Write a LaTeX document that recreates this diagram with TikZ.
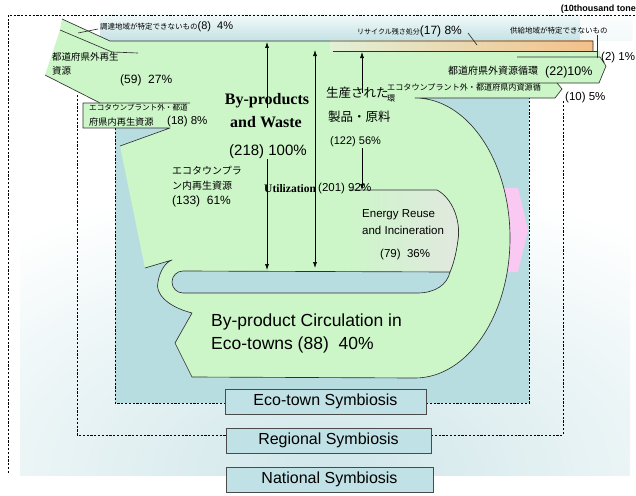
\documentclass[tikz,border=0pt]{standalone}
\usepackage{fontspec}
\setmainfont{Liberation Sans}
\newfontfamily\jp{Noto Sans CJK JP}
\newfontfamily\tms{Liberation Serif}
\usetikzlibrary{arrows.meta}
\newcommand\setfs[1]{\fontsize{#1}{#1}\selectfont}
\definecolor{flowgreen}{HTML}{CCF6C8}
\definecolor{ecoblue}{HTML}{B7DDE0}
\definecolor{boxblue}{HTML}{C0E1E5}
\definecolor{boxedge}{HTML}{4A4A4A}
\definecolor{edgegray}{HTML}{303030}
\definecolor{orangeflow}{HTML}{F4C08A}
\definecolor{orangefade}{HTML}{E2F0D6}
\definecolor{pinkflow}{HTML}{F9C8F3}
\definecolor{energygray}{HTML}{E2E8E0}
\definecolor{bandtop}{HTML}{F2F9F9}
\definecolor{bandbot}{HTML}{C3E1E5}
\definecolor{glow}{HTML}{CFE6E9}
\begin{document}
\begin{tikzpicture}[x=1pt,y=-1pt,
  outline/.style={draw=edgegray, line width=0.65pt, line join=round},
  zone/.style={draw=black, line width=0.5pt, dash pattern=on 2.2pt off 1.6pt},
  vflow/.style={draw=black, line width=0.6pt},
  lbl/.style={anchor=west, inner sep=0pt, text=black},
  legendbox/.style={draw=boxedge, line width=0.8pt, fill=boxblue, minimum height=25pt,
    inner sep=0pt, font=\setfs{16}},
]
\useasboundingbox[fill=white] (0,0) rectangle (636,495);

% pale glow behind the lower half
\begin{scope}
  \clip (20,15) rectangle (630,475);
  \shade[inner color=glow, outer color=white] (330,475) ellipse [x radius=520, y radius=300];
\end{scope}

% top band
\shade[top color=bandtop, bottom color=bandbot] (100,15) rectangle (632,41);
\shade[left color=bandbot!0!white, right color=white, opacity=0.8] (580,15) rectangle (632,41);

% eco-town area
\fill[ecoblue] (115,41) rectangle (529,403);

% zone boundaries
\draw[zone] (8,473) -- (8,15) -- (636,15);
\draw[zone] (77,95) -- (77,435) -- (226,435);
\draw[zone] (431,435) -- (563,435) -- (563,100);
\draw[zone] (115,128) -- (115,403) -- (225,403);
\draw[zone] (426,403) -- (529,403) -- (529,98);

% heat output
\fill[pinkflow] (500,188) -- (518,188) -- (528,230) -- (518,272) -- (500,272) -- cycle;

% main material flow
\fill[flowgreen] (62,19) -- (110,41) -- (593,41) -- (593,51) -- (600,51) -- (600,57)
  -- (606,66) -- (599,83) -- (557,83) -- (562,89) -- (555,98) -- (415,98)
  arc[start angle=-90, end angle=90, x radius=95, y radius=140]
  -- (192,377) -- (175,343) -- (192,313)
  .. controls (165,306) and (155,292) .. (158,282)
  .. controls (160,270) and (166,262) .. (172,260)
  -- (145,268) -- (120,146) -- (170,128) -- (83,128) -- (83,103) -- (100,103)
  -- (45,75) -- (60,30) -- cycle;

% energy recovery part
\fill[left color=flowgreen, right color=energygray] (345,190) -- (437,190)
  .. controls (452,198) and (461,220) .. (458,240)
  .. controls (456,255) and (453,265) .. (450,272) -- (345,272) -- cycle;

% residue to disposal
\shade[left color=orangefade, right color=orangeflow] (330,41) rectangle (593,51);

% inner return channel
\filldraw[fill=ecoblue, outline] (183,271) -- (450,272)
  .. controls (447,285) and (435,293) .. (417,293) -- (183,293)
  arc[start angle=90, end angle=270, radius=11] -- cycle;

% flow outlines
\draw[outline] (62,19) -- (110,41) -- (593,41) -- (593,51);
\draw[outline] (333,51) -- (598,51);
\draw[outline] (517,57) -- (600,57) -- (606,66) -- (599,83) -- (477,83);
\draw[outline] (557,83) -- (562,89) -- (555,98) -- (415,98)
  arc[start angle=-90, end angle=90, x radius=95, y radius=140]
  -- (192,377) -- (175,343) -- (192,313)
  .. controls (165,306) and (155,292) .. (158,282)
  .. controls (160,270) and (166,262) .. (172,260) -- (145,268);
\draw[outline] (120,146) -- (170,128) -- (83,128) -- (83,103) -- (190,103);
\draw[outline] (45,75) -- (100,103);
\draw[outline] (60,30) -- (112,52) -- (138,53);
\draw[outline] (350,190) -- (437,190)
  .. controls (452,198) and (461,220) .. (458,240)
  .. controls (456,255) and (453,265) .. (450,272);

% labels
\node[lbl, font=\jp\setfs{7.5}] (unk) at (100,27) {調達地域が特定できないもの{\rmfamily\setfs{11}(8)\ \ 4\%}};
\node[lbl, font=\jp\setfs{9.5}, align=left] (outpref) at (52,64) {都道府県外再生\\[4pt]資源};
\node[lbl, font=\setfs{12}] (v59) at (120,80) {(59)\ \ 27\%};
\node[lbl, font=\jp\setfs{7.6}] (inpref1) at (89,108) {エコタウンプラント外・都道};
\node[lbl, font=\jp\setfs{9.2}] (inpref2) at (89,122) {府県内再生資源};
\node[lbl, font=\setfs{11.5}] (v18) at (167,122) {(18) 8\%};
\node[font=\tms\bfseries\setfs{16}, inner sep=0pt] (bp) at (267,101) {By-products};
\node[font=\tms\bfseries\setfs{16}, inner sep=0pt] (aw) at (266,122) {and Waste};
\node[font=\setfs{15}, inner sep=0pt] (v218) at (268,152) {(218) 100\%};
\node[lbl, font=\jp\setfs{10}] (intown1) at (172,171) {エコタウンプラ};
\node[lbl, font=\jp\setfs{10}] (intown2) at (172,186) {ン内再生資源};
\node[lbl, font=\setfs{12}] (v133) at (172,201) {(133)\ \ 61\%};
\node[lbl, font=\tms\bfseries\setfs{11.5}] (util) at (264,189) {Utilization};
\node[lbl, font=\setfs{11.5}] (v201) at (318,189) {(201) 92\%};
\node[lbl, font=\jp\setfs{12.5}] (prod1) at (326,93) {生産された};
\node[lbl, font=\jp\setfs{12.5}] (prod2) at (328,117) {製品・原料};
\node[lbl, font=\jp\setfs{8.1}] (incirc1) at (387,87) {エコタウンプラント外・都道府県内資源循};
\node[lbl, font=\jp\setfs{8.1}] (incirc2) at (387,99) {環};
\node[lbl, font=\setfs{11}] (v122) at (330,142) {(122) 56\%};
\node[lbl, font=\setfs{11.5}] (en1) at (362,215) {Energy Reuse};
\node[lbl, font=\setfs{11.5}] (en2) at (362,230) {and Incineration};
\node[lbl, font=\setfs{11.5}] (v79) at (380,255) {(79)\ \ 36\%};
\node[lbl, font=\setfs{17.5}] (circ1) at (211,322) {By-product Circulation in};
\node[lbl, font=\setfs{17.5}] (circ2) at (211,345) {Eco-towns (88)\ \ 40\%};
\node[lbl, font=\jp\setfs{7}] (resid) at (357,31) {リサイクル残さ処分{\rmfamily\setfs{12}(17) 8\%}};
\node[lbl, font=\jp\setfs{7.5}] (unksup) at (510,31) {供給地域が特定できないもの};
\node[lbl, font=\setfs{11.5}] (v2) at (601,58) {(2) 1\%};
\node[lbl, font=\jp\setfs{10}] (outcirc) at (448,71) {都道府県外資源循環};
\node[lbl, font=\setfs{12.5}] (v22) at (545,72) {(22)10\%};
\node[lbl, font=\setfs{11.5}] (v10) at (565,98) {(10) 5\%};
\node[anchor=east, inner sep=0pt, font=\bfseries\setfs{9}] (unit) at (636,9) {(10thousand tone};

% label leaders
\coordinate (lead8) at (78,33);
\coordinate (lead17) at (477,45);
\coordinate (lead2) at (597,58);
\draw[outline] (lead8) -- ([xshift=-2pt,yshift=-2pt]unk.west);
\draw[outline] (lead17) -- (468,33);
\draw[outline] (lead2) -- (unksup.south -| lead2);

% totals: inputs, utilisation, products
\coordinate (a1top) at (267,42);
\coordinate (a1bot) at (267,270);
\coordinate (a2top) at (315,50);
\coordinate (a2bot) at (315,268);
\coordinate (a3top) at (362,52);
\coordinate (a3bot) at (362,190);
\draw[vflow, {Latex[length=6pt,width=4pt]}-] (a1top) -- (a1top |- bp.south);
\draw[vflow, -{Latex[length=6pt,width=4pt]}] (a1top |- v218.south) -- (a1bot);
\draw[vflow, {Latex[length=6pt,width=4pt]}-] (a2top) -- ([yshift=-20pt]a2top |- util.north);
\draw[vflow, -{Latex[length=6pt,width=4pt]}] ([yshift=18pt]a2top |- util.south) -- (a2bot);
\draw[vflow, {Latex[length=6pt,width=4pt]}-] (a3top) -- ([yshift=-6pt]a3top |- prod1.north);
\draw[vflow, -{Latex[length=6pt,width=4pt]}] ([yshift=-1pt]a3top |- v122.south) -- (a3bot);

% symbiosis levels
\node[legendbox, minimum width=201pt] (ecosym) at (325.5,401.5) {Eco-town Symbiosis};
\node[legendbox, minimum width=205pt] (regsym) at (328.5,440.5) {Regional Symbiosis};
\node[legendbox, minimum width=207pt] (natsym) at (329.5,479.5) {National Symbiosis};
\end{tikzpicture}
\end{document}
